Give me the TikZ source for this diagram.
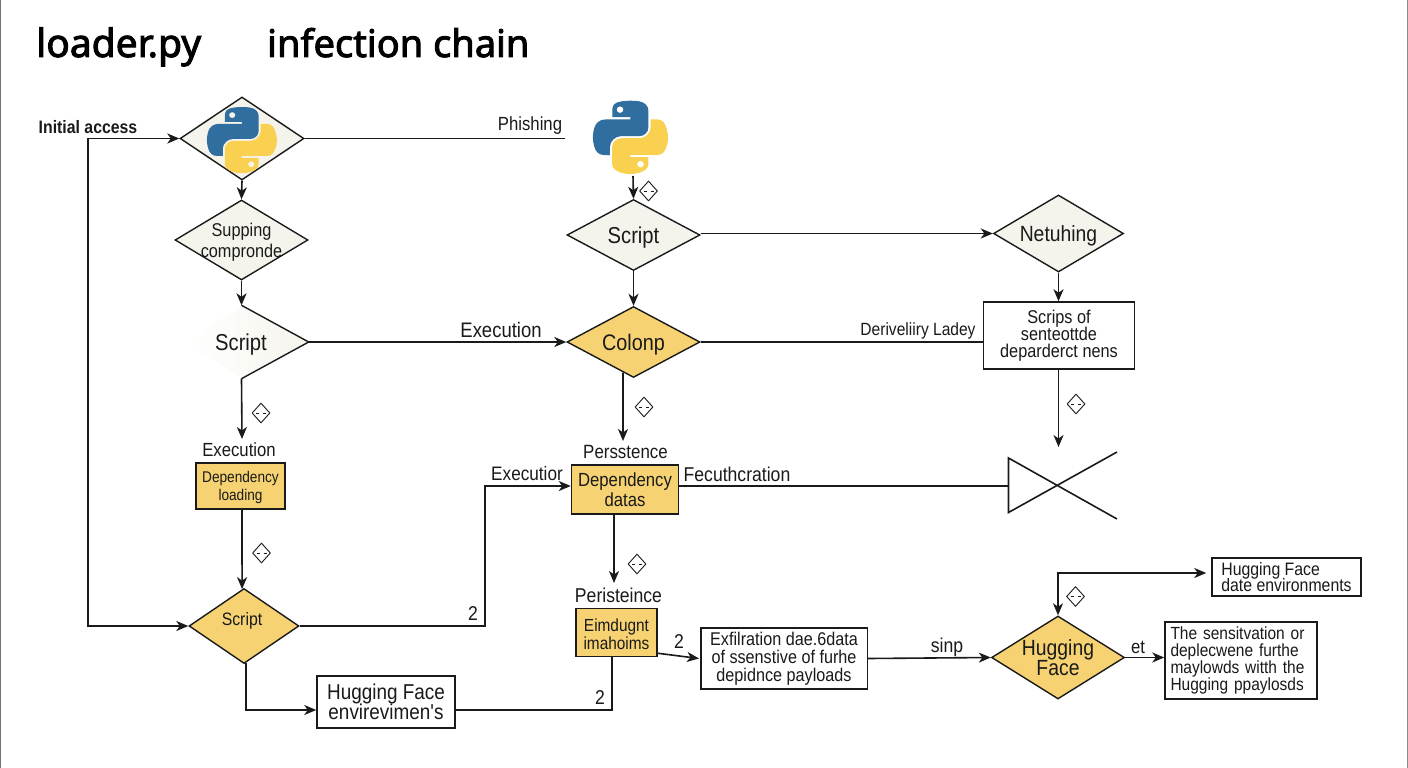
\documentclass[tikz,border=0pt]{standalone}
\usepackage{fontspec}
\setmainfont{Liberation Sans}
\newfontfamily\bodyf[FakeStretch=0.88]{Liberation Sans}
\newfontfamily\titlef[FakeBold=2.4]{Noto Sans}
\usetikzlibrary{shapes.geometric,arrows.meta,calc}
\definecolor{cream}{HTML}{F5F4EC}
\definecolor{gold}{HTML}{F6D272}
\definecolor{pyblue}{HTML}{2F6E9E}
\definecolor{pyyellow}{HTML}{F9D04F}
\definecolor{ink}{HTML}{1A1A1A}
\newcommand{\fsz}[1]{\fontsize{#1}{\dimexpr #1pt*12/10\relax}\selectfont}
\newcommand{\nd}[1]{\raisebox{0pt}[\height][0pt]{#1}}
\newcommand{\pylogo}[4]{%
  \begin{scope}[shift={(#1,#2)},x=#3pt,y=-#4pt]
    \fill[pyblue,even odd rule] (54.9,0) .. controls (50.3,0) and (46,0.4) .. (42.1,1.1)
      .. controls (30.7,3.1) and (28.6,7.3) .. (28.6,15) -- (28.6,25.2) -- (55.6,25.2) -- (55.6,28.6) -- (18.5,28.6)
      .. controls (10.7,28.6) and (3.9,33.3) .. (1.7,42.2)
      .. controls (-0.8,52.4) and (-0.9,58.8) .. (1.7,69.4)
      .. controls (3.6,77.3) and (8.2,82.9) .. (16,82.9) -- (25.2,82.9) -- (25.2,70.7)
      .. controls (25.2,61.9) and (32.8,54.1) .. (41.9,54.1) -- (68.9,54.1)
      .. controls (76.4,54.1) and (82.4,47.9) .. (82.4,40.4) -- (82.4,15)
      .. controls (82.4,7.7) and (76.2,2.2) .. (68.9,1)
      .. controls (64.3,0.2) and (59.5,-0.1) .. (54.9,0) -- cycle
      (45.3,13.7) arc[start angle=0,end angle=360,x radius=5.1,y radius=5.1];
    \fill[pyyellow,even odd rule] (85.6,28.6) -- (85.6,40.4)
      .. controls (85.6,49.6) and (77.9,57.3) .. (68.9,57.3) -- (41.9,57.3)
      .. controls (34.5,57.3) and (28.4,63.6) .. (28.4,71) -- (28.4,96.3)
      .. controls (28.4,103.6) and (34.7,107.8) .. (41.9,109.9)
      .. controls (50.4,112.4) and (58.6,112.9) .. (68.9,109.9)
      .. controls (75.7,107.9) and (82.4,103.9) .. (82.4,96.3) -- (82.4,86.2) -- (55.4,86.2) -- (55.4,82.9) -- (95.9,82.9)
      .. controls (103.8,82.9) and (106.6,77.4) .. (109.4,69.4)
      .. controls (112.2,61.2) and (112.1,53.4) .. (109.4,42.8)
      .. controls (107.4,35.2) and (103.8,28.6) .. (95.9,28.6) -- cycle
      (75.7,96.9) arc[start angle=0,end angle=360,x radius=5.1,y radius=5.1];
  \end{scope}}
\newcommand{\tinymark}[3]{%
  \node[markd] (#1) at (#2,#3) {};
  \draw[line width=.7pt,ink] ($(#1)+(-5,0)$) -- ($(#1)+(-2,0)$) ($(#1)+(2,0)$) -- ($(#1)+(5,0)$);}
\tikzset{
  line/.style={draw=ink,line width=1.6pt},
  arw/.style={line,-{Stealth[length=12pt,width=10pt,inset=3.5pt]}},
  barw/.style={line,{Stealth[length=12pt,width=10pt,inset=3.5pt]}-{Stealth[length=12pt,width=10pt,inset=3.5pt]}},
  dia/.style={diamond,aspect=1.7,inner xsep=-12pt,inner ysep=-8pt,draw=ink,line width=1.4pt,font=\bodyf,align=center,text=ink},
  cdia/.style={dia,fill=cream},
  gdia/.style={dia,fill=gold},
  box/.style={rectangle,inner sep=0pt,draw=ink,line width=1.5pt,font=\bodyf,align=center,text=ink,fill=white},
  gbox/.style={box,fill=gold},
  lab/.style={inner sep=0pt,font=\bodyf,text=ink,anchor=center},
  markd/.style={diamond,draw=ink,line width=.9pt,inner sep=0pt,minimum width=18pt,minimum height=20pt},
}
\begin{document}
\begin{tikzpicture}[x=1pt,y=-1pt]
\useasboundingbox (0,0) rectangle (1408,768);
\fill[white] (0,0) rectangle (1408,768);
\draw[line width=1.2pt,black!55] (0.6,0) -- (0.6,768);
\draw[line width=1.2pt,black!45] (1407.4,0) -- (1407.4,768);

\node[inner sep=0pt,anchor=base west,font=\titlef\fsz{39},text=black] (T1) at (36,57) {loader.py};
\node[inner sep=0pt,anchor=base west,font=\titlef\fsz{38},text=black] (T2) at (267,57) {infection chain};

% diamonds
\node[cdia,minimum width=124pt,minimum height=83pt] (D1) at (242,138.5) {};
\pylogo{207}{107}{.627}{.591}
\node[cdia,minimum width=133pt,minimum height=80pt,font=\bodyf\fsz{18.5}] (D2) at (241.5,240) {\rule{0pt}{18pt}Supping\\[-2pt]compronde};
\shade[left color=white,right color=cream] (186,342) -- (242,306) -- (308,342) -- (242,378) -- cycle;
\node[dia,draw=none,minimum width=122pt,minimum height=72pt,font=\bodyf\fsz{23}] (D3) at (247,342) {\hspace*{-12pt}\nd{Script}};
\draw[line width=1.4pt,ink] (D3.north -| D2.south) -- (D3.east) -- (D3.south -| D2.south);
\node[gdia,minimum width=110pt,minimum height=75pt,font=\bodyf\fsz{18}] (D4) at (244,626) {\hspace*{-4pt}\raisebox{14pt}{Script}};
\node[cdia,minimum width=133pt,minimum height=71pt,font=\bodyf\fsz{23}] (D5) at (633.5,235) {\nd{Script}};
\node[gdia,minimum width=133pt,minimum height=71pt,font=\bodyf\fsz{22.5}] (D6) at (633.5,342) {\nd{Colonp}};
\node[cdia,minimum width=130pt,minimum height=77pt,font=\bodyf\fsz{22}] (D7) at (1058.5,233.5) {\nd{Netuhing}};
\node[gdia,minimum width=133pt,minimum height=83pt,font=\bodyf\fsz{22}] (D8) at (1058,657.5) {Hugging\\[-6pt]Face};

% logo 2
\node[inner sep=0pt,minimum width=74pt,minimum height=72pt] (L2) at (630,136.7) {};
\pylogo{593}{100.7}{.673}{.655}

% boxes
\node[gbox,minimum width=89pt,minimum height=46pt,font=\bodyf\fsz{15.5}] (B1) at (240.5,486) {\rule{0pt}{14.5pt}Dependency\\[0pt]loading};
\node[gbox,minimum width=107pt,minimum height=49pt,font=\bodyf\fsz{19}] (B2) at (625,489.5) {Dependency\\[-3pt]datas};
\node[gbox,minimum width=81pt,minimum height=48pt,font=\bodyf\fsz{17.5}] (B3) at (616.5,632.5) {\rule{0pt}{16pt}Eimdugnt\\[-3pt]imahoims};
\node[box,minimum width=138pt,minimum height=52pt,font=\bodyf\fsz{21.5}] (B4) at (386,702) {Hugging Face\\[-6pt]envirevimen's};
\node[box,minimum width=166.5pt,minimum height=61pt,font=\bodyf\fsz{18.4}] (B5) at (784,658.5) {Exfilration dae.6data\\[-4pt]of ssenstive of furhe\\[-4pt]depidnce payloads};
\node[box,minimum width=149pt,minimum height=38pt,font=\bodyf\fsz{18},align=left] (B6) at (1286.5,577) {Hugging Face\\[-5pt]date environments};
\node[box,minimum width=152pt,minimum height=77pt,font=\bodyf\fsz{17.6},align=left,text width=141pt] (B7) at (1241,660.5) {The sensitvation or\\[-4pt]deplecwene furthe\\[-4pt]maylowds witth the\\[-4pt]Hugging ppaylosds};
\node[box,minimum width=151pt,minimum height=67pt,font=\bodyf\fsz{18.5}] (B8) at (1059,335.5) {Scrips of\\[-5pt]senteottde\\[-5pt]deparderct nens};

% free ends
\coordinate (lpT) at (88,138.5);
\coordinate (lpB) at (88,626);
\coordinate (ph) at (565,138.5);
\coordinate (e1) at (242,439);
\coordinate (e2) at (623,441);
\coordinate (e3) at (1058.5,447);
\coordinate (e4) at (614,583);
\coordinate (s2) at (633,176);
\coordinate (xa) at (1008.5,458);
\coordinate (xb) at (1008.5,512.5);
\coordinate (xc) at (1117,519);
\coordinate (xd) at (1117,452);
\coordinate (xm) at (1008.5,486);
\coordinate (up) at (1058,573);
\coordinate (j1) at (485,626);
\coordinate (j2) at (485,486);
\coordinate (j3) at (612,710);
\coordinate (j4) at (0,710);

% connectors
\draw[barw] (D1.west) -- (lpT) -- (lpB) -- (D4.west);
\draw[line] (D1.east) -- (ph);
\draw[arw] (D1.south) -- (D2.north);
\draw[arw] (D2.south) -- (D3.north -| D2.south);
\draw[arw] (D3.south -| D2.south) -- (e1);
\draw[arw] (D3.east) -- (D6.west);
\draw[arw] (s2) -- (D5.north);
\draw[arw] (D5.south) -- (D6.north);
\draw[arw] (D5.east |- D7.west) -- (D7.west);
\draw[arw] (D7.south) -- (B8.north -| D7.south);
\draw[line] (B8.west |- D6.east) -- (D6.east);
\draw[arw] (B8.south -| D7.south) -- (e3);
\draw[arw] (D6.-109) -- (e2);
\draw[line] (xm) -- (B2.east |- xm);
\draw[line,line join=miter] (xd) -- (xb) -- (xa) -- (xc);
\draw[arw] (B1.south -| e1) -- (D4.93);
\draw[arw] (D4.east) -- (j1) -- (j2) -- (B2.west |- j2);
\draw[arw] (D4.-87) |- (B4.west |- j4);
\draw[line] (B4.east |- j4) -- (j3) -- (j3 |- B3.south);
\draw[arw] ($(B2.south)+(-11,0)$) -- (e4);
\draw[arw] ($(B3.south east)+(0,-4)$) -- ($(B5.west)+(-1,0)$);
\draw[arw] (B5.east) -- (D8.west);
\draw[arw] (D8.east) -- (B7.west |- D8.east);
\draw[barw] (D8.north) -- (up) -- ($(B6.west |- up)+(-5,0)$);

% small marks
\tinymark{m1}{648.5}{191}
\tinymark{m2}{261}{413}
\tinymark{m3}{644}{407}
\tinymark{m4}{1076}{404}
\tinymark{m5}{261.5}{553}
\tinymark{m6}{637}{564}
\tinymark{m7}{1075.5}{596.5}

% labels
\node[lab,font=\bodyf\bfseries\fsz{18}] (l1) at (88,127) {Initial access};
\node[lab,font=\bodyf\fsz{19}] (l2) at (530,126) {Phishing};
\node[lab,font=\bodyf\fsz{21}] (l3) at (501,330) {Execution};
\node[lab,font=\bodyf\fsz{17.7}] (l4) at (918,331) {Deriveliiry Ladey};
\node[lab,font=\bodyf\fsz{19}] (l5) at (239,450) {Execution};
\node[lab,font=\bodyf\fsz{19.2}] (l6) at (625.5,452) {Persstence};
\node[lab,font=\bodyf\fsz{19.5}] (l7) at (527,474) {Executior};
\node[lab,font=\bodyf\fsz{20}] (l8) at (737,474) {Fecuthcration};
\node[lab,font=\bodyf\fsz{20}] (l9) at (618.5,595) {Peristeince};
\node[lab,font=\bodyf\fsz{20}] (l10) at (473,614) {2};
\node[lab,font=\bodyf\fsz{20}] (l11) at (600,698) {2};
\node[lab,font=\bodyf\fsz{20}] (l12) at (679,642) {2};
\node[lab,font=\bodyf\fsz{20}] (l13) at (947,647) {sinp};
\node[lab,font=\bodyf\fsz{19}] (l14) at (1138,647) {et};
\end{tikzpicture}
\end{document}
